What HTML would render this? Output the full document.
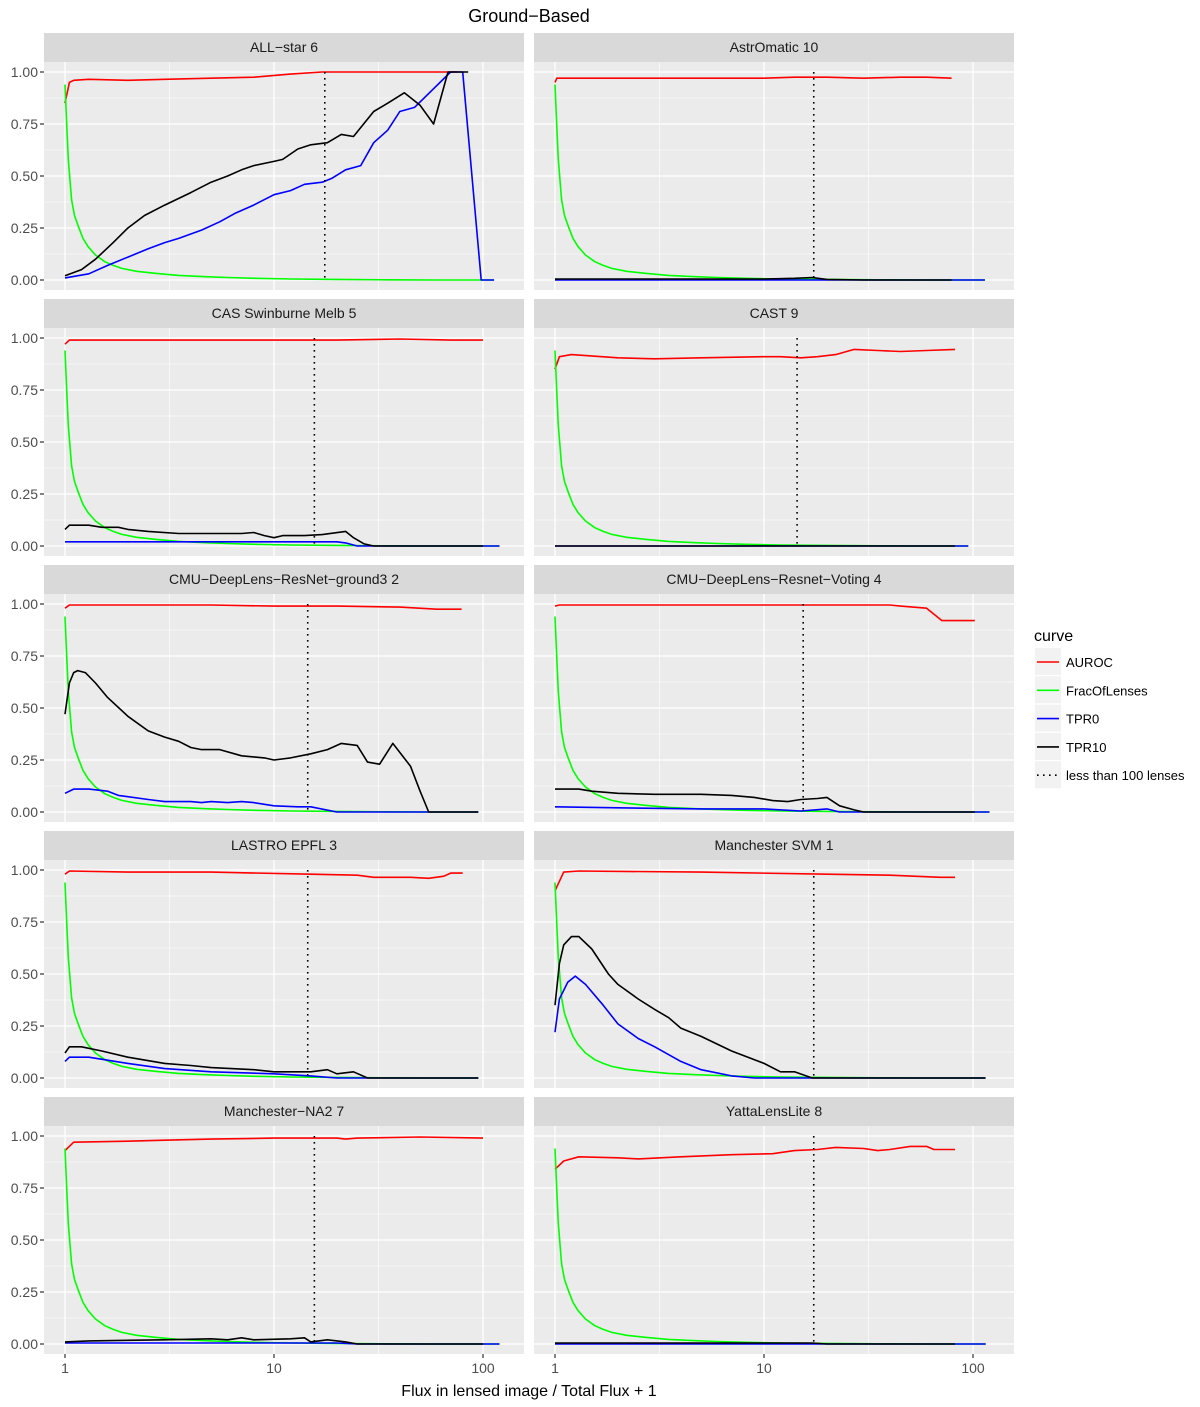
<!DOCTYPE html>
<html><head><meta charset="utf-8"><style>
body{margin:0;background:#fff;}
svg{display:block;font-family:"Liberation Sans",Arial,sans-serif;}
</style></head><body>
<svg id="c" width="1200" height="1407" viewBox="0 0 1200 1407" xmlns="http://www.w3.org/2000/svg"></svg>
<script>
// ---- data ----
const panelTitles = ["ALL-star 6","AstrOmatic 10","CAS Swinburne Melb 5","CAST 9","CMU-DeepLens-ResNet-ground3 2","CMU-DeepLens-Resnet-Voting 4","LASTRO EPFL 3","Manchester SVM 1","Manchester-NA2 7","YattaLensLite 8"];
const cutoffX = [17.5,17.3,15.6,14.4,14.5,15.4,14.5,17.3,15.6,17.3];
const fracX = [1,1.015,1.037,1.076,1.11,1.16,1.22,1.29,1.4,1.55,1.7,1.87,2.2,2.7,3.5,4.7,6,8.1,12,20,35,60,125];
const fracY = [0.94,0.78,0.58,0.385,0.31,0.256,0.2,0.16,0.12,0.088,0.07,0.056,0.042,0.032,0.022,0.016,0.012,0.008,0.005,0.003,0.001,0,0];
const fracEnd = [113,114,120,95,95,120,95,114,120,115];
const aurocX = [
 [1,1.05,1.1,1.3,2,3,5,8,12,17,25,40,75],
 [1,1.02,1.5,3,6,10,14,20,30,45,60,79],
 [1,1.05,1.5,3,6,10,20,40,70,100],
 [1,1.05,1.2,2,3,5,10,12,15,18,22,27,35,45,60,82],
 [1,1.05,2,5,10,20,40,60,79],
 [1,1.05,3,10,20,40,45,60,71,102],
 [1,1.05,2,5,15,25,30,45,55,65,70,80],
 [1,1.1,1.3,5,20,40,70,82],
 [1,1.1,2,3,5,10,20,22,25,50,100],
 [1,1.1,1.3,2,2.5,4,7,11,14,18,22,30,35,40,50,60,65,82]];
const aurocY = [
 [0.85,0.95,0.96,0.965,0.96,0.965,0.97,0.975,0.99,1,1,1,1],
 [0.95,0.97,0.97,0.97,0.97,0.97,0.975,0.975,0.97,0.975,0.975,0.97],
 [0.97,0.99,0.99,0.99,0.99,0.99,0.99,0.995,0.99,0.99],
 [0.85,0.91,0.92,0.905,0.9,0.905,0.91,0.91,0.905,0.91,0.92,0.945,0.94,0.935,0.94,0.945],
 [0.98,0.995,0.995,0.995,0.99,0.99,0.985,0.975,0.975],
 [0.99,0.995,0.995,0.995,0.995,0.995,0.99,0.98,0.92,0.92],
 [0.98,0.995,0.99,0.99,0.98,0.975,0.965,0.965,0.96,0.97,0.985,0.985],
 [0.9,0.99,0.995,0.99,0.98,0.975,0.965,0.965],
 [0.93,0.97,0.975,0.98,0.985,0.99,0.99,0.985,0.99,0.995,0.99],
 [0.84,0.88,0.9,0.895,0.89,0.9,0.91,0.915,0.93,0.935,0.945,0.94,0.93,0.935,0.95,0.95,0.935,0.935]];
const tpr0X = [
 [1,1.3,1.6,2,2.5,3,3.5,4.5,5.5,6.5,8,10,12,14,17,19,22,26,30,35,40,47,70,80,98,113],
 [1,114],
 [1,5,10,20,22,25,120],
 [1,95],
 [1,1.1,1.3,1.6,1.8,2.5,3,4,4.5,5,6,7,8,10,13,15,20,95],
 [1,2,5,10,15,20,23,120],
 [1,1.05,1.3,2,3,5,10,15,20,95],
 [1,1.05,1.15,1.25,1.4,1.7,2,2.5,3,4,5,7,9,114],
 [1,20,25,120],
 [1,115]];
const tpr0Y = [
 [0.01,0.03,0.07,0.11,0.15,0.18,0.2,0.24,0.28,0.32,0.36,0.41,0.43,0.46,0.47,0.49,0.53,0.55,0.66,0.72,0.81,0.83,1,1,0,0],
 [0,0],
 [0.02,0.02,0.02,0.02,0.015,0,0],
 [0,0],
 [0.09,0.11,0.11,0.1,0.08,0.06,0.05,0.05,0.045,0.05,0.045,0.05,0.045,0.03,0.025,0.025,0,0],
 [0.025,0.02,0.015,0.015,0.005,0.015,0,0],
 [0.08,0.1,0.1,0.07,0.045,0.03,0.02,0.01,0,0],
 [0.22,0.38,0.46,0.49,0.45,0.35,0.26,0.19,0.15,0.08,0.04,0.01,0,0],
 [0.005,0.005,0,0],
 [0,0]];
const tpr10X = [
 [1,1.2,1.4,1.7,2,2.4,3,4,5,6,7,8,10,11,13,15,18,21,24,30,35,42,50,58,68,80,85],
 [1,5,10,14,17,20,30,79],
 [1,1.05,1.3,1.5,1.8,2,2.5,3.5,5,7,8,9,10,11,14,17,22,24,27,30,100],
 [1,82],
 [1,1.05,1.1,1.15,1.25,1.4,1.6,2,2.5,3,3.5,4,4.5,5.5,7,9,10,12,15,18,21,25,28,32,37,45,50,55,95],
 [1,1.1,1.3,1.5,2,3,5,7,9,11,13,15,18,20,23,27,30,102],
 [1,1.05,1.2,1.5,2,3,4,5,8,10,15,18,20,24,28,95],
 [1,1.05,1.1,1.2,1.3,1.5,1.8,2,2.5,3,3.5,4,5,7,10,12,14,17,115],
 [1,1.3,3,5,6,7,8,12,14,15,18,22,25,100],
 [1,17,20,82]];
const tpr10Y = [
 [0.02,0.05,0.1,0.18,0.25,0.31,0.36,0.42,0.47,0.5,0.53,0.55,0.57,0.58,0.63,0.65,0.66,0.7,0.69,0.81,0.85,0.9,0.84,0.75,1,1,1],
 [0.005,0.005,0.005,0.008,0.012,0.003,0,0],
 [0.08,0.1,0.1,0.09,0.09,0.08,0.07,0.06,0.06,0.06,0.065,0.05,0.04,0.05,0.05,0.055,0.07,0.04,0.01,0,0],
 [0,0],
 [0.47,0.62,0.67,0.68,0.67,0.62,0.55,0.46,0.39,0.36,0.34,0.31,0.3,0.3,0.27,0.26,0.25,0.26,0.28,0.3,0.33,0.32,0.24,0.23,0.33,0.22,0.1,0,0],
 [0.11,0.11,0.11,0.1,0.09,0.085,0.085,0.08,0.07,0.055,0.05,0.06,0.065,0.07,0.03,0.01,0,0],
 [0.12,0.15,0.15,0.13,0.1,0.07,0.06,0.05,0.04,0.03,0.03,0.04,0.02,0.03,0,0],
 [0.35,0.55,0.64,0.68,0.68,0.62,0.5,0.45,0.38,0.33,0.29,0.24,0.2,0.13,0.07,0.03,0.03,0,0],
 [0.01,0.015,0.02,0.025,0.02,0.03,0.02,0.025,0.03,0.01,0.02,0.01,0,0],
 [0.005,0.005,0,0]];
const yTicks = [0,0.25,0.5,0.75,1];
const yTickLabels = ["0.00","0.25","0.50","0.75","1.00"];
const xTicks = [1,10,100];
const xTickLabels = ["1","10","100"];
const legendLabels = ["AUROC","FracOfLenses","TPR0","TPR10","less than 100 lenses"];

// ---- drawing ----
const NS="http://www.w3.org/2000/svg";
const svg=document.getElementById('c');
function mk(tag,attrs,parent){const e=document.createElementNS(NS,tag);for(const k in attrs)e.setAttribute(k,attrs[k]);(parent||svg).appendChild(e);return e;}
const colX=[44,534], PW=480, PH=228, rowTop=[62,328,594,860,1126];
function sx(col,x){return colX[col]+21+209*Math.log10(x);}
function sy(row,y){return rowTop[row]+10+208*(1-y);}
const colors=["#ff0000","#00ff00","#0000ff","#000000"];

let t=mk('text',{x:529,y:22,'text-anchor':'middle','font-size':18,fill:'#000'});
t.textContent='Ground\u2212Based';

for(let i=0;i<10;i++){
  const col=i%2,row=Math.floor(i/2),x0=colX[col],y0=rowTop[row];
  const g=mk('g',{});
  
  
  const st=mk('rect',{x:x0,y:y0-29,width:PW,height:29,fill:'#d9d9d9'},g);
  
  const stt=mk('text',{x:x0+PW/2,y:y0-10,'text-anchor':'middle','font-size':14,fill:'#1a1a1a'},g);
  
  stt.textContent=panelTitles[i].replace(/-/g,'\u2212');
  const bg=mk('rect',{x:x0,y:y0,width:PW,height:PH,fill:'#ebebeb'},g);
  
  [0.125,0.375,0.625,0.875].forEach(v=>mk('line',{x1:x0,x2:x0+PW,y1:sy(row,v),y2:sy(row,v),stroke:'#fff','stroke-width':0.6},g));
  [Math.sqrt(10),Math.sqrt(1000)].forEach(v=>mk('line',{x1:sx(col,v),x2:sx(col,v),y1:y0,y2:y0+PH,stroke:'#fff','stroke-width':0.6},g));
  yTicks.forEach(v=>mk('line',{x1:x0,x2:x0+PW,y1:sy(row,v),y2:sy(row,v),stroke:'#fff','stroke-width':1.3},g));
  xTicks.forEach(v=>mk('line',{x1:sx(col,v),x2:sx(col,v),y1:y0,y2:y0+PH,stroke:'#fff','stroke-width':1.3},g));
  if(col===0){
    yTicks.forEach((v,k)=>{
      mk('line',{x1:x0-4,x2:x0,y1:sy(row,v),y2:sy(row,v),stroke:'#333','stroke-width':1.2},g);
      const yl=mk('text',{x:x0-6,y:sy(row,v)+5,'text-anchor':'end','font-size':14,fill:'#4d4d4d'},g);
      
      yl.textContent=yTickLabels[k];
    });
  }
  if(row===4){
    xTicks.forEach((v,k)=>{
      mk('line',{x1:sx(col,v),x2:sx(col,v),y1:y0+PH,y2:y0+PH+4,stroke:'#333','stroke-width':1.2},g);
      const xl=mk('text',{x:sx(col,v),y:y0+PH+19,'text-anchor':'middle','font-size':14,fill:'#4d4d4d'},g);
      
      xl.textContent=xTickLabels[k];
    });
  }
  function line(xs,ys,color,name){
    const d=xs.map((x,k)=>(k?'L':'M')+sx(col,x).toFixed(1)+','+sy(row,ys[k]).toFixed(1)).join('');
    const p=mk('path',{d:d,fill:'none',stroke:color,'stroke-width':1.6,'stroke-linejoin':'round'},g);
    
  }
  line(aurocX[i],aurocY[i],colors[0],'auroc-line');
  const fx=[],fy=[];
  for(let k=0;k<fracX.length;k++){if(fracX[k]<fracEnd[i]){fx.push(fracX[k]);fy.push(fracY[k]);}}
  fx.push(fracEnd[i]);fy.push(0);
  line(fx,fy,colors[1],'frac-of-lenses-line');
  line(tpr0X[i],tpr0Y[i],colors[2],'tpr0-line');
  line(tpr10X[i],tpr10Y[i],colors[3],'tpr10-line');
  const cl=mk('line',{x1:sx(col,cutoffX[i]),x2:sx(col,cutoffX[i]),y1:sy(row,1),y2:sy(row,0),stroke:'#000','stroke-width':1.6,'stroke-dasharray':'1.6 4.4'},g);
  
}
t=mk('text',{x:529,y:1396,'text-anchor':'middle','font-size':16,fill:'#000'});

t.textContent='Flux in lensed image / Total Flux + 1';

const lg=mk('g',{});

t=mk('text',{x:1034,y:641,'font-size':16,fill:'#000'},lg);

t.textContent='curve';
legendLabels.forEach((lab,k)=>{
  const y=648+k*28.3;
  const e=mk('g',{},lg);
  
  mk('rect',{x:1035,y:y,width:26,height:27,fill:'#f2f2f2'},e);
  if(k<4) mk('line',{x1:1037,x2:1059,y1:y+14,y2:y+14,stroke:colors[k],'stroke-width':1.6},e);
  else mk('line',{x1:1037,x2:1059,y1:y+14,y2:y+14,stroke:'#000','stroke-width':1.6,'stroke-dasharray':'1.6 4.4'},e);
  const tx=mk('text',{x:1066,y:y+19,'font-size':13,fill:'#000'},e);
  tx.textContent=lab;
});
</script>
</body></html>
